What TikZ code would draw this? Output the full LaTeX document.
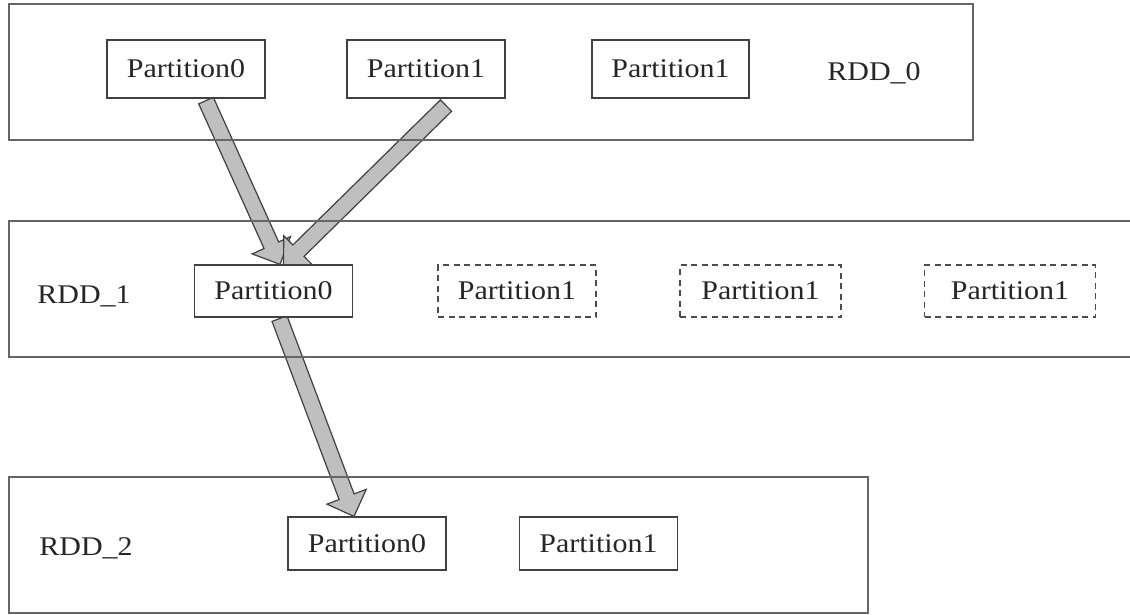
\documentclass[tikz,border=0pt]{standalone}
\usepackage{fontspec}
\setmainfont[FakeStretch=1.11]{Liberation Serif}
\usetikzlibrary{calc,backgrounds}

\tikzset{
  layerbox/.style={rectangle, draw=black!60, line width=1.5pt, inner sep=0pt},
  part/.style={rectangle, draw=black!75, line width=1.2pt, fill=white, inner sep=0pt,
    minimum width=158pt, text=black!85, font=\fontsize{27}{30}\selectfont},
  ghost/.style={part, draw=black!70, dash pattern=on 6pt off 4.5pt},
  rddname/.style={inner sep=0pt, text=black!85, font=\fontsize{27}{30}\selectfont},
  arrowbody/.style={fill=black!25, draw=black!75, line width=1.2pt, line join=miter},
}

% block arrow from #1 (tail) to #2 (tip); #3 is a name prefix
\newcommand\blockarrow[3]{%
  \coordinate (#3b) at ($(#2)!21pt!(#1)$);
  \draw[arrowbody]
    ($(#1)!8pt!90:(#2)$) -- ($(#3b)!8pt!90:(#2)$) -- ($(#3b)!21pt!90:(#2)$)
    -- (#2)
    -- ($(#3b)!21pt!-90:(#2)$) -- ($(#3b)!8pt!-90:(#2)$) -- ($(#1)!8pt!-90:(#2)$)
    -- cycle;
}

\begin{document}
\begin{tikzpicture}[x=1pt,y=-1pt]
\useasboundingbox (0,0) rectangle (1130,615);
\clip (0,0) rectangle (1130,615);

% layer frames
\node[layerbox, minimum width=964pt, minimum height=136pt] (rdd0) at (491,72) {};
\node[layerbox, minimum width=1140pt, minimum height=136pt] (rdd1) at (579,289) {};
\node[layerbox, minimum width=859pt, minimum height=136pt] (rdd2) at (438.5,545) {};

% layer names
\node[rddname] (n0) at (874,73) {RDD\_0};
\node[rddname] (n1) at (84,296) {RDD\_1};
\node[rddname] (n2) at (86,548) {RDD\_2};

% RDD_0 partitions
\node[part, minimum height=58pt] (p00) at (186,69) {Partition0};
\node[part, minimum height=58pt] (p01) at (426,69) {Partition1};
\node[part, minimum height=58pt, minimum width=157pt] (p02) at (670.5,69) {Partition1};

% RDD_1 partitions
\node[part, minimum height=52pt] (p10) at (273.5,291) {Partition0};
\node[ghost, minimum height=52pt] (p11) at (517,291) {Partition1};
\node[ghost, minimum height=52pt, minimum width=161pt] (p12) at (760.5,291) {Partition1};
\node[ghost, minimum height=52pt, minimum width=171pt] (p13) at (1010,291) {Partition1};

% RDD_2 partitions
\node[part, minimum height=53pt] (p20) at (367,543.5) {Partition0};
\node[part, minimum height=53pt] (p21) at (598.5,543.5) {Partition1};

% dependency arrows
\coordinate (a1s) at ($(p00.south)+(20,2)$);
\coordinate (a1t) at ($(p10.north)+(6.5,0)$);
\coordinate (a2s) at ($(p01.south)+(20,7)$);
\coordinate (a2t) at ($(p10.north)+(10,1)$);
\coordinate (a3s) at ($(p10.south)+(6,1)$);
\coordinate (a3t) at ($(p20.north)+(-13,0)$);
\begin{scope}[on background layer]
  \blockarrow{a1s}{a1t}{a1}
  \blockarrow{a2s}{a2t}{a2}
  \blockarrow{a3s}{a3t}{a3}
\end{scope}
\end{tikzpicture}
\end{document}
